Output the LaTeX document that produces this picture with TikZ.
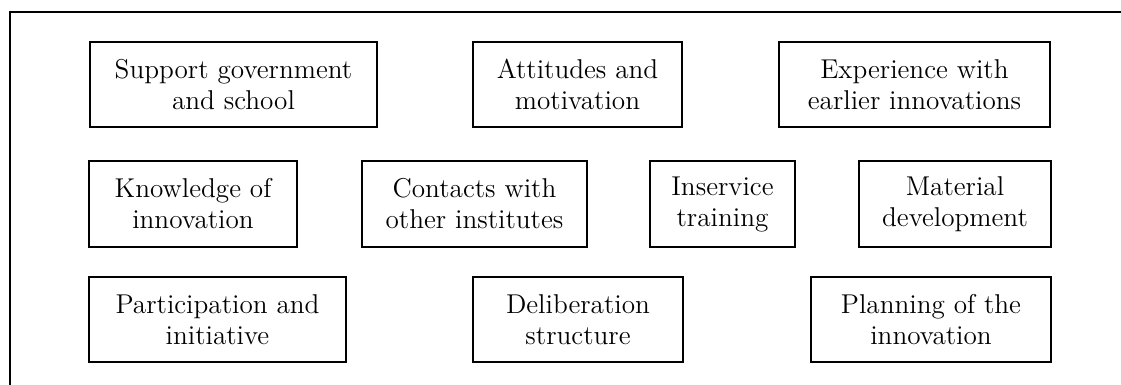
\documentclass[tikz,border=0pt]{standalone}
\begin{document}
\begin{tikzpicture}[x=0.5pt,y=-0.5pt,
  factor/.style={draw, line width=0.6pt, rectangle, inner sep=0pt,
    align=center, font=\fontsize{13.6}{15.5}\selectfont},
  frame/.style={line width=0.6pt}]
\useasboundingbox (0,0) rectangle (1121,385);

% outer frame (top and left sides)
\coordinate (fbl) at (10,385);
\coordinate (ftl) at (10,12);
\coordinate (ftr) at (1121,12);
\draw[frame] (fbl) -- (ftl) -- (ftr);

% first row
\node[factor, minimum width=143.5pt, minimum height=42.5pt] (support) at (233.5,84.5)
  {Support government\\and school};
\node[factor, minimum width=104.5pt, minimum height=42.5pt] (attitudes) at (577.5,84.5)
  {Attitudes and\\motivation};
\node[factor, minimum width=135.5pt, minimum height=42.5pt] (experience) at (914.5,84.5)
  {Experience with\\earlier innovations};

% second row
\node[factor, minimum width=104pt, minimum height=43pt] (knowledge) at (193,204)
  {Knowledge of\\innovation};
\node[factor, minimum width=112.5pt, minimum height=43pt] (contacts) at (474.5,204)
  {Contacts with\\other institutes};
\node[factor, minimum width=72.5pt, minimum height=43pt] (inservice) at (722.5,204)
  {Inservice\\training};
\node[factor, minimum width=96pt, minimum height=43pt] (material) at (955,204)
  {Material\\development};

% third row
\node[factor, minimum width=128.5pt, minimum height=42.5pt] (participation) at (217.5,319.5)
  {Participation and\\initiative};
\node[factor, minimum width=105pt, minimum height=42.5pt] (deliberation) at (578,319.5)
  {Deliberation\\structure};
\node[factor, minimum width=120pt, minimum height=42.5pt] (planning) at (931,319.5)
  {Planning of the\\innovation};
\end{tikzpicture}
\end{document}
